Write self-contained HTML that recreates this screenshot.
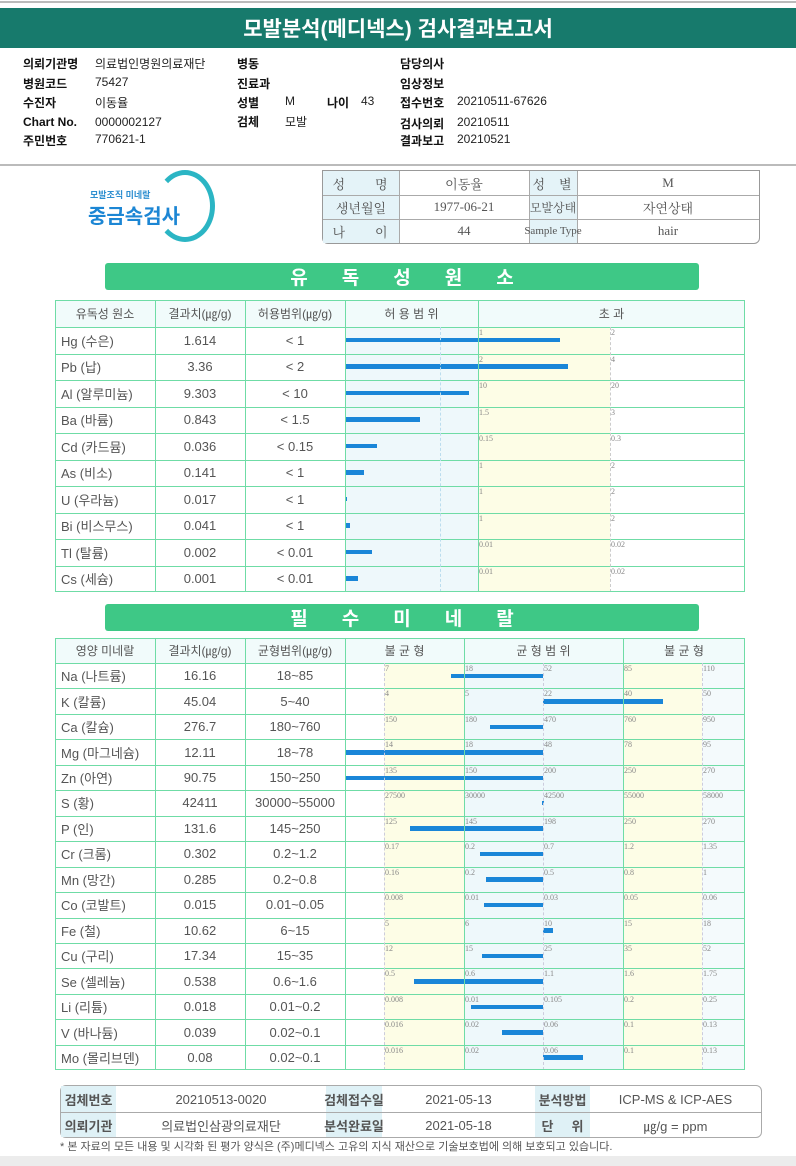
<!DOCTYPE html>
<html><head><meta charset="utf-8">
<style>
*{margin:0;padding:0;box-sizing:border-box}
body{width:796px;height:1166px;position:relative;background:#fff;font-family:"Liberation Sans","Noto Sans CJK KR",sans-serif;overflow:hidden;color:#333}
.a{position:absolute}
.lb{font-weight:bold;font-size:12px;color:#111;white-space:nowrap}
.vl{font-size:12px;color:#222;white-space:nowrap}
.cell{position:absolute;display:flex;align-items:center;justify-content:center;font-size:13px;color:#555;white-space:nowrap}
.lc{justify-content:flex-start;padding-left:6px}
.tk{position:absolute;font-family:"Liberation Serif",serif;font-size:8px;color:#888}
.banner{position:absolute;background:#3ec886;border-radius:3px;color:#fff;font-weight:bold;font-size:19px;display:flex;align-items:center;justify-content:center;letter-spacing:34px}
</style></head><body>
<div class="a" style="left:0;top:1px;width:796px;height:2px;background:#bbb"></div>
<div class="a" style="left:0;top:8px;width:796px;height:40px;background:#177a6c;color:#fff;font-size:21px;font-weight:bold;display:flex;align-items:center;justify-content:center">모발분석(메디넥스) 검사결과보고서</div>

<div>
<div class="a lb" style="left:23px;top:55px">의뢰기관명</div><div class="a vl" style="left:95px;top:55px">의료법인명원의료재단</div>
<div class="a lb" style="left:23px;top:75px">병원코드</div><div class="a vl" style="left:95px;top:75px">75427</div>
<div class="a lb" style="left:23px;top:94px">수진자</div><div class="a vl" style="left:95px;top:94px">이동율</div>
<div class="a lb" style="left:23px;top:115px">Chart No.</div><div class="a vl" style="left:95px;top:115px">0000002127</div>
<div class="a lb" style="left:23px;top:132px">주민번호</div><div class="a vl" style="left:95px;top:132px">770621-1</div>
<div class="a lb" style="left:237px;top:55px">병동</div>
<div class="a lb" style="left:237px;top:75px">진료과</div>
<div class="a lb" style="left:237px;top:94px">성별</div><div class="a vl" style="left:285px;top:94px">M</div>
<div class="a lb" style="left:327px;top:94px">나이</div><div class="a vl" style="left:361px;top:94px">43</div>
<div class="a lb" style="left:237px;top:113px">검체</div><div class="a vl" style="left:285px;top:113px">모발</div>
<div class="a lb" style="left:400px;top:55px">담당의사</div>
<div class="a lb" style="left:400px;top:75px">임상정보</div>
<div class="a lb" style="left:400px;top:94px">접수번호</div><div class="a vl" style="left:457px;top:94px">20210511-67626</div>
<div class="a lb" style="left:400px;top:115px">검사의뢰</div><div class="a vl" style="left:457px;top:115px">20210511</div>
<div class="a lb" style="left:400px;top:132px">결과보고</div><div class="a vl" style="left:457px;top:132px">20210521</div>
</div>
<div class="a" style="left:0;top:164px;width:796px;height:2px;background:#bbb"></div>

<div class="a" style="left:60px;top:170px;width:180px;height:75px">
<div class="a" style="left:95px;top:0;width:60px;height:72px;border:5px solid #2bb5c4;border-left-color:transparent;border-radius:50%"></div>
<div class="a" style="left:30px;top:18px;font-size:9px;color:#2e8fd0;font-weight:bold">모발조직 미네랄</div>
<div class="a" style="left:28px;top:30px;font-size:20px;color:#1c86d4;font-weight:bold">중금속검사</div>
</div>

<div class="a" style="left:322px;top:170px;width:438px;height:74px;border:1px solid #999;border-radius:0 0 6px 6px;font-family:'Liberation Serif','Noto Serif CJK SC',serif;font-size:13px;color:#555">
<div class="a" style="left:0;top:0;width:76px;height:72px;background:#e4f3f8"></div>
<div class="a" style="left:206px;top:0;width:48px;height:72px;background:#e4f3f8"></div>
<div class="a" style="left:0;top:24px;width:436px;border-top:1px solid #aaa"></div>
<div class="a" style="left:0;top:48px;width:436px;border-top:1px solid #aaa"></div>
<div class="a" style="left:76px;top:0;height:72px;border-left:1px solid #aaa"></div>
<div class="a" style="left:206px;top:0;height:72px;border-left:1px solid #aaa"></div>
<div class="a" style="left:254px;top:0;height:72px;border-left:1px solid #aaa"></div>
<div class="cell" style="left:0;top:0;width:76px;height:24px;letter-spacing:30px;padding-left:28px">성명</div>
<div class="cell" style="left:76px;top:0;width:130px;height:24px">이동율</div>
<div class="cell" style="left:206px;top:0;width:48px;height:24px;letter-spacing:14px;padding-left:12px">성별</div>
<div class="cell" style="left:254px;top:0;width:182px;height:24px">M</div>
<div class="cell" style="left:0;top:24px;width:76px;height:24px">생년월일</div>
<div class="cell" style="left:76px;top:24px;width:130px;height:24px">1977-06-21</div>
<div class="cell" style="left:206px;top:24px;width:48px;height:24px;font-size:12px">모발상태</div>
<div class="cell" style="left:254px;top:24px;width:182px;height:24px">자연상태</div>
<div class="cell" style="left:0;top:48px;width:76px;height:24px;letter-spacing:30px;padding-left:28px">나이</div>
<div class="cell" style="left:76px;top:48px;width:130px;height:24px">44</div>
<div class="cell" style="left:206px;top:48px;width:48px;height:24px;font-size:11px">Sample Type</div>
<div class="cell" style="left:254px;top:48px;width:182px;height:24px">hair</div>
</div>

<div class="banner" style="left:105px;top:263px;width:594px;height:27px;padding-left:34px">유독성원소</div>
<div id="toxic"></div>
<div class="banner" style="left:105px;top:604px;width:594px;height:27px;padding-left:34px">필수미네랄</div>
<div id="mineral"></div>

<div class="a" style="left:60px;top:1085px;width:702px;height:53px;border:1px solid #aaa;border-radius:6px;font-size:13px;color:#555">
<div class="a" style="left:0;top:0;width:55px;height:51px;background:#dff1f6"></div>
<div class="a" style="left:265px;top:0;width:56px;height:51px;background:#dff1f6"></div>
<div class="a" style="left:474px;top:0;width:55px;height:51px;background:#dff1f6"></div>
<div class="a" style="left:0;top:26px;width:700px;border-top:1px solid #aaa"></div>
<div class="cell" style="left:0;top:0;width:55px;height:26px;font-weight:bold">검체번호</div>
<div class="cell" style="left:55px;top:0;width:210px;height:26px">20210513-0020</div>
<div class="cell" style="left:265px;top:0;width:56px;height:26px;font-weight:bold">검체접수일</div>
<div class="cell" style="left:321px;top:0;width:153px;height:26px">2021-05-13</div>
<div class="cell" style="left:474px;top:0;width:55px;height:26px;font-weight:bold">분석방법</div>
<div class="cell" style="left:529px;top:0;width:171px;height:26px">ICP-MS &amp; ICP-AES</div>
<div class="cell" style="left:0;top:26px;width:55px;height:26px;font-weight:bold">의뢰기관</div>
<div class="cell" style="left:55px;top:26px;width:210px;height:26px">의료법인삼광의료재단</div>
<div class="cell" style="left:265px;top:26px;width:56px;height:26px;font-weight:bold">분석완료일</div>
<div class="cell" style="left:321px;top:26px;width:153px;height:26px">2021-05-18</div>
<div class="cell" style="left:474px;top:26px;width:55px;height:26px;font-weight:bold;letter-spacing:18px;padding-left:18px">단위</div>
<div class="cell" style="left:529px;top:26px;width:171px;height:26px">㎍/g = ppm</div>
</div>
<div class="a" style="left:60px;top:1138px;font-size:11px;color:#555">* 본 자료의 모든 내용 및 시각화 된 평가 양식은 (주)메디넥스 고유의 지식 재산으로 기술보호법에 의해 보호되고 있습니다.</div>
<div class="a" style="left:0;top:1156px;width:796px;height:10px;background:#ececec"></div>

<script>
const toxNames=["Hg (수은)","Pb (납)","Al (알루미늄)","Ba (바륨)","Cd (카드뮴)","As (비소)","U (우라늄)","Bi (비스무스)","Tl (탈륨)","Cs (세슘)"];
const toxValues=[1.614,3.36,9.303,0.843,0.036,0.141,0.017,0.041,0.002,0.001];
const toxLimits=[1,2,10,1.5,0.15,1,1,1,0.01,0.01];
const toxLimitLabels=["< 1","< 2","< 10","< 1.5","< 0.15","< 1","< 1","< 1","< 0.01","< 0.01"];
const toxTick1=["1","2","10","1.5","0.15","1","1","1","0.01","0.01"];
const toxTick2=["2","4","20","3","0.3","2","2","2","0.02","0.02"];

const minNames=["Na (나트륨)","K (칼륨)","Ca (칼슘)","Mg (마그네슘)","Zn (아연)","S (황)","P (인)","Cr (크롬)","Mn (망간)","Co (코발트)","Fe (철)","Cu (구리)","Se (셀레늄)","Li (리튬)","V (바나듐)","Mo (몰리브덴)"];
const minValues=[16.16,45.04,276.7,12.11,90.75,42411,131.6,0.302,0.285,0.015,10.62,17.34,0.538,0.018,0.039,0.08];
const minRanges=["18~85","5~40","180~760","18~78","150~250","30000~55000","145~250","0.2~1.2","0.2~0.8","0.01~0.05","6~15","15~35","0.6~1.6","0.01~0.2","0.02~0.1","0.02~0.1"];
const minTicks=[[7,18,52,85,110],[4,5,22,40,50],[150,180,470,760,950],[14,18,48,78,95],[135,150,200,250,270],[27500,30000,42500,55000,58000],[125,145,198,250,270],[0.17,0.2,0.7,1.2,1.35],[0.16,0.2,0.5,0.8,1],[0.008,0.01,0.03,0.05,0.06],[5,6,10,15,18],[12,15,25,35,52],[0.5,0.6,1.1,1.6,1.75],[0.008,0.01,0.105,0.2,0.25],[0.016,0.02,0.06,0.1,0.13],[0.016,0.02,0.06,0.1,0.13]];

const G='#6fdca6';
function box(p,x,y,w,h,st){const d=document.createElement('div');d.className='a';d.style.cssText=`left:${x}px;top:${y}px;width:${w}px;height:${h}px;${st||''}`;p.appendChild(d);return d;}
function txt(p,cls,x,y,w,h,t){const d=document.createElement('div');d.className=cls;d.style.cssText=`left:${x}px;top:${y}px;width:${w}px;height:${h}px`;d.textContent=t;p.appendChild(d);return d;}

// toxic
const T=document.getElementById('toxic');
const tL=55,tR=745,tTop=300,tHead=27,tRow=26.5,tX0=345,tX1=478,tX2=610;
function toxX(v,lim){return tX0+(v/lim)*(tX1-tX0);}
const tBot=tTop+tHead+tRow*toxNames.length;
box(T,tX0,tTop+tHead,tX1-tX0,tBot-tTop-tHead,'background:#eef8fb');
box(T,tX1,tTop+tHead,tX2-tX1,tBot-tTop-tHead,'background:#fdfde6');
box(T,tL,tTop,tR-tL,tHead,'background:#f1fbfb');
[["유독성 원소",tL,155],["결과치(㎍/g)",155,245],["허용범위(㎍/g)",245,345],["허  용  범  위",345,tX1],["초                과",tX1,tR]].forEach(h=>{const c=txt(T,'cell',h[1],tTop,h[2]-h[1],tHead,h[0]);c.style.fontSize='12px';});
toxNames.forEach((n,i)=>{
  const y=tTop+tHead+i*tRow;
  const a=txt(T,'cell lc',tL,y,100,tRow,n);
  const b=txt(T,'cell',155,y,90,tRow,toxValues[i].toString());
  const c=txt(T,'cell',245,y,100,tRow,toxLimitLabels[i]);
  const t1=txt(T,'tk',tX1+1,y+1,30,10,toxTick1[i]);
  const t2=txt(T,'tk',tX2+1,y+1,30,10,toxTick2[i]);
  const bar=box(T,tX0,y+tRow/2-2.5,Math.max(2,toxX(toxValues[i],toxLimits[i])-tX0),4.5,'background:#1a86d8');
  
  
  if(i>0)box(T,tL,y,tR-tL,0,'border-top:1px solid '+G);
});
box(T,tL,tTop+tHead,tR-tL,0,'border-top:1px solid '+G);
[155,245,345].forEach(x=>box(T,x,tTop,0,tBot-tTop,'border-left:1px solid '+G));
box(T,tX1,tTop,0,tBot-tTop,'border-left:1px solid '+G);
box(T,440,tTop+tHead,0,tBot-tTop-tHead,'border-left:1px dashed #bde');
box(T,tX2,tTop+tHead,0,tBot-tTop-tHead,'border-left:1px dashed #ccc');
box(T,tL,tTop,tR-tL,tBot-tTop,'border:1.5px solid '+G);

// minerals
const M=document.getElementById('mineral');
const mL=55,mR=745,mTop=638,mHead=25,mRow=25.45;
const tickX=[384,464,543,623,702];
function minX(v,t){
  if(v<=t[0]){return Math.max(346,tickX[0]-(t[0]-v)/(t[1]-t[0])*(tickX[1]-tickX[0]));}
  for(let k=0;k<4;k++){if(v<=t[k+1])return tickX[k]+(v-t[k])/(t[k+1]-t[k])*(tickX[k+1]-tickX[k]);}
  return Math.min(744,tickX[4]+(v-t[4])/(t[4]-t[3])*(tickX[4]-tickX[3]));
}
const mBot=mTop+mHead+mRow*minNames.length;
const mb=mTop+mHead, mh=mBot-mb;
box(M,384,mb,80,mh,'background:#fdfde6');
box(M,464,mb,159,mh,'background:#eef8fb');
box(M,623,mb,79,mh,'background:#fdfde6');
box(M,702,mb,43,mh,'background:#f4fafc');
box(M,mL,mTop,mR-mL,mHead,'background:#f1fbfb');
[["영양 미네랄",mL,155],["결과치(㎍/g)",155,245],["균형범위(㎍/g)",245,345],["불  균  형",345,464],["균  형  범  위",464,623],["불  균  형",623,mR]].forEach(h=>{const c=txt(M,'cell',h[1],mTop,h[2]-h[1],mHead,h[0]);c.style.fontSize='12px';});
minNames.forEach((n,i)=>{
  const y=mb+i*mRow;
  const a=txt(M,'cell lc',mL,y,100,mRow,n);
  const b=txt(M,'cell',155,y,90,mRow,minValues[i].toString());
  const c=txt(M,'cell',245,y,100,mRow,minRanges[i]);
  minTicks[i].forEach((tv,k)=>{const t=txt(M,'tk',tickX[k]+1,y+1,40,10,String(tv));});
  const c0=tickX[2], vx=minX(minValues[i],minTicks[i]);
  const bar=box(M,Math.min(c0,vx),y+mRow/2-2,Math.max(2,Math.abs(vx-c0)),4.5,'background:#1a86d8');
  
  
  if(i>0)box(M,mL,y,mR-mL,0,'border-top:1px solid '+G);
});
box(M,mL,mb,mR-mL,0,'border-top:1px solid '+G);
[155,245,345].forEach(x=>box(M,x,mTop,0,mBot-mTop,'border-left:1px solid '+G));
[464,623].forEach(x=>box(M,x,mTop,0,mBot-mTop,'border-left:1px solid '+G));
[384,543,702].forEach(x=>box(M,x,mb,0,mh,'border-left:1px dashed #ccd'));
box(M,mL,mTop,mR-mL,mBot-mTop,'border:1.5px solid '+G);
</script>
</body></html>
